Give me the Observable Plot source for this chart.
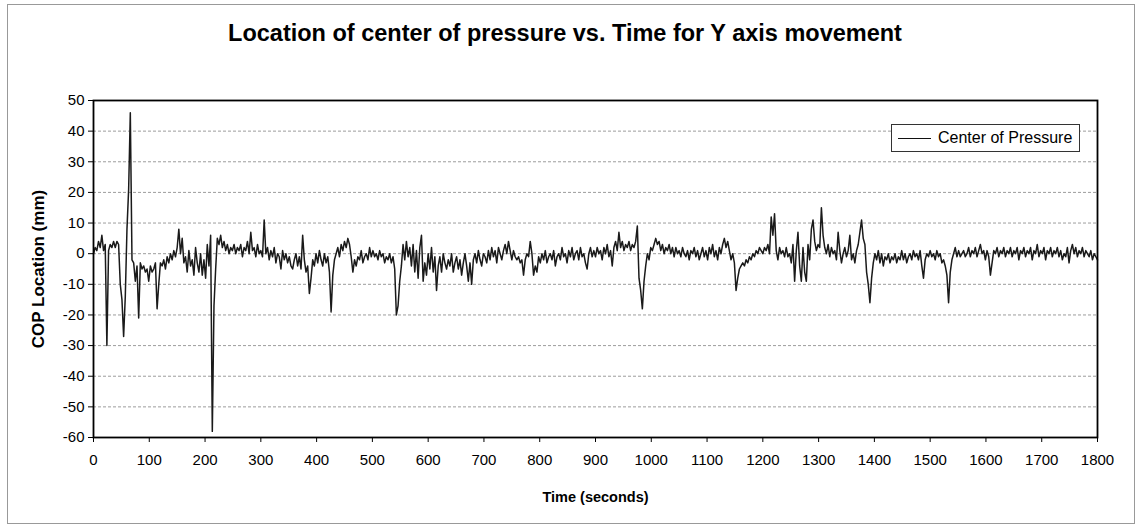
<!DOCTYPE html>
<html>
<head>
<meta charset="utf-8">
<script src="https://cdn.jsdelivr.net/npm/d3@7"></script>
<script src="https://cdn.jsdelivr.net/npm/@observablehq/plot@0.6"></script>
<style>
  html, body { margin: 0; padding: 0; background: #fff; }
  body { width: 1138px; height: 527px; position: relative; overflow: hidden; font-family: "Liberation Sans", Arial, sans-serif; }
  #border { position: absolute; left: 7px; top: 4px; width: 1128px; height: 520px; border: 1px solid #999; box-sizing: border-box; }
  #title { position: absolute; left: 0; top: 0; width: 1130px; height: 60px; text-align: center; font-weight: bold; font-size: 23.5px; line-height: 66px; color: #000; }
  #chart { position: absolute; left: 0; top: 60px; }
  #legend { position: absolute; left: 891px; top: 124px; width: 189px; height: 28px; border: 1px solid #333; background: #fff; box-sizing: border-box; font-size: 16px; }
  #legend .sw { position: absolute; left: 6px; top: 13px; width: 33px; height: 0; border-top: 1.5px solid #111; }
  #legend .lb { position: absolute; left: 46px; top: 4px; white-space: nowrap; }
  #chart g[aria-label="x-axis label"] text { font-weight: bold; font-size: 14.5px; }
  #chart g[aria-label="y-axis label"] text { font-weight: bold; font-size: 17px; }
</style>
</head>
<body>
<div id="border"></div>
<div id="title">Location of center of pressure vs. Time for Y axis movement</div>
<div id="chart"></div>
<div id="legend"><div class="sw"></div><div class="lb">Center of Pressure</div></div>
<script>
// Sampling interval of the recorded series (seconds)
const sampleStep = 3;

// COP location (mm), t = 0 .. 297 s
const copA = [0,2,1,4,2,6,1,3,-30,1,3,2,4,2,4,3,-10,-15,-27,-14,8,21,46,-2,-3,-9,-4,-21,-3,-5,
  -4,-6,-5,-9,-4,-6,-5,-3,-18,-10,-3,-4,-2,-5,-1,-3,0,-2,1,-1,2,8,0,5,-3,-1,-6,1,-4,-2,
  -7,2,-3,-6,0,-7,-2,-8,3,-4,6,-58,-17,-5,5,3,6,2,4,1,3,0,2,1,3,0,2,1,3,-1,
  2,1,4,0,7,1,2,-1,3,0];
// t = 300 .. 597 s
const copB = [1,-1,11,0,2,-2,1,-1,2,-3,0,-1,-5,1,-2,0,-3,-1,-4,-5,-2,0,-4,-1,-5,6,-2,-6,-4,-13,
  -8,-2,-4,0,-3,1,-2,-4,0,-3,-1,-6,-19,-7,-2,0,2,-1,3,1,4,2,5,3,-1,-6,-2,-4,-1,-2,
  1,-3,-1,0,-2,2,-1,1,-1,0,-2,1,-1,0,-3,-1,-2,0,-3,-1,-5,-20,-17,-9,-4,3,-2,4,-1,2,
  -4,3,-6,1,-8,2,6,-9,-3,-7];
// t = 600 .. 897 s
const copC = [0,-5,2,-6,-1,-12,-4,-1,-6,0,-3,-5,-2,-4,0,-6,-3,-1,-5,-2,-7,-3,0,-4,-9,-3,-10,-2,0,-3,
  1,-2,-4,0,-1,-3,1,-2,2,-1,1,-3,2,0,-2,1,3,0,4,1,-2,1,-1,-2,-1,-3,-2,-7,-2,0,
  -1,4,0,-7,-4,-6,-1,-3,0,-2,1,-3,-1,0,-2,1,-4,-1,0,-2,2,-1,0,-3,1,-1,2,-2,0,1,
  -2,2,-1,0,-3,-5,0,2,-1,1];
// t = 900 .. 1197 s
const copD = [-1,2,0,1,-2,2,0,3,-1,1,-4,2,4,1,7,2,4,1,3,2,4,1,3,2,4,9,-8,-12,-18,-9,
  -4,0,-2,2,1,3,5,3,4,1,3,0,2,1,3,0,2,-1,2,0,1,-1,2,0,-1,1,-2,1,0,2,
  -1,1,-2,0,2,-1,1,-2,2,0,3,-1,1,-2,2,0,3,5,2,4,1,-2,0,-3,-12,-8,-5,-4,-3,-4,
  -2,-3,-1,-2,0,-1,1,0,2,1];
// t = 1200 .. 1497 s
const copE = [0,2,1,3,0,12,6,13,1,-2,2,0,1,-1,2,-1,0,-3,3,-9,1,7,-4,-9,2,-6,-9,3,-2,8,
  11,4,1,3,2,15,6,2,0,3,-1,2,0,1,-2,7,1,-3,0,2,-1,1,6,-2,0,-3,1,3,7,11,
  5,3,-6,-10,-16,-8,-3,0,-2,1,-3,0,-4,-1,-2,0,-3,-1,-2,0,-3,-1,-2,1,-2,0,-3,-1,0,-2,
  1,-1,0,-2,1,-4,-8,-2,0,-1];
// t = 1500 .. 1800 s
const copF = [1,-1,0,-2,1,-1,0,-3,-2,-4,-7,-16,-6,-2,0,2,-1,1,-1,0,1,-1,0,2,-1,1,0,2,-1,1,
  3,0,1,-2,1,-1,-7,-3,1,0,2,-1,1,0,2,-1,1,0,2,-1,1,0,2,-2,1,0,2,-1,1,0,
  2,-2,1,0,3,-1,1,0,2,-2,1,0,2,-1,1,0,2,-1,1,-2,0,-1,2,-3,1,3,0,2,-1,1,
  0,2,-1,1,0,-1,1,-2,0,-1,-2];

const xTicks = [0,100,200,300,400,500,600,700,800,900,1000,1100,1200,1300,1400,1500,1600,1700,1800];
const yTicks = [50,40,30,20,10,0,-10,-20,-30,-40,-50,-60];
const gridTicks = [40,30,20,10,0,-10,-20,-30,-40,-50];

const values = [...copA, ...copB, ...copC, ...copD, ...copE, ...copF];
const data = values.map((v, i) => ({t: i * sampleStep, v}));

const chart = Plot.plot({
  width: 1138,
  height: 467,
  marginLeft: 93,
  marginRight: 41,
  marginTop: 40,
  marginBottom: 90,
  style: {fontFamily: "'Liberation Sans', Arial, sans-serif", fontSize: "15px", background: "transparent", color: "#000"},
  x: {domain: [0, 1800]},
  y: {domain: [-60, 50]},
  marks: [
    Plot.gridY(gridTicks, {stroke: "#777", strokeOpacity: 0.9, strokeWidth: 0.8, strokeDasharray: "3,2"}),
    Plot.line(data, {x: "t", y: "v", stroke: "#1a1a1a", strokeWidth: 1.5}),
    Plot.frame({stroke: "#000", strokeWidth: 1.8}),
    Plot.axisX({ticks: xTicks, tickSize: 5, tickPadding: 12, tickFormat: d => String(d),
      label: "Time (seconds)", labelAnchor: "center", labelOffset: 64, labelArrow: "none"}),
    Plot.axisY({ticks: yTicks, tickSize: 5, tickPadding: 4, tickFormat: d => String(d),
      label: "COP Location (mm)", labelAnchor: "center", labelOffset: 62, labelArrow: "none"})
  ]
});
document.getElementById("chart").appendChild(chart);
</script>
</body>
</html>
